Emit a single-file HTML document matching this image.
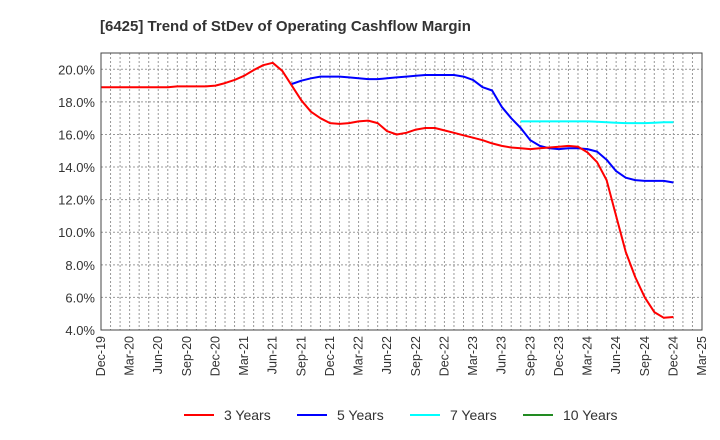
<!DOCTYPE html>
<html><head><meta charset="utf-8"><style>
body{margin:0;background:#fff;font-family:"Liberation Sans",sans-serif;}
svg{display:block}
</style></head><body>
<svg id="chart" width="720" height="440" xmlns="http://www.w3.org/2000/svg">
<text x="100" y="31" font-size="15" font-weight="bold" fill="#333">[6425]  Trend of StDev of Operating Cashflow Margin</text>
<g id="grid"></g>
<g id="yaxis"></g>
<g id="xaxis"></g>
<g id="series"></g>
<rect x="101" y="53" width="601" height="277" fill="none" stroke="#444" stroke-width="1"/>
<g>
<g><line x1="184" y1="415" x2="214" y2="415" stroke="#ff0000" stroke-width="2"/><text x="224" y="420" font-size="14" fill="#333">3 Years</text></g>
<g><line x1="297" y1="415" x2="327" y2="415" stroke="#0000ff" stroke-width="2"/><text x="337" y="420" font-size="14" fill="#333">5 Years</text></g>
<g><line x1="410" y1="415" x2="440" y2="415" stroke="#00ffff" stroke-width="2"/><text x="450" y="420" font-size="14" fill="#333">7 Years</text></g>
<g><line x1="523" y1="415" x2="553" y2="415" stroke="#228b22" stroke-width="2"/><text x="563" y="420" font-size="14" fill="#333">10 Years</text></g>
</g>
</svg>
<script>
const xTickLabels=["Dec-19","Mar-20","Jun-20","Sep-20","Dec-20","Mar-21","Jun-21","Sep-21","Dec-21","Mar-22","Jun-22","Sep-22","Dec-22","Mar-23","Jun-23","Sep-23","Dec-23","Mar-24","Jun-24","Sep-24","Dec-24","Mar-25"];
const yTicks=[4,6,8,10,12,14,16,18,20];
// monthly values starting Dec-19 (index 0)
const series3Start=0;
const series3=[18.9,18.9,18.9,18.9,18.9,18.9,18.9,18.9,18.95,18.95,18.95,18.95,19.0,19.15,19.35,19.6,19.95,20.25,20.4,19.9,19.0,18.1,17.4,17.0,16.7,16.65,16.7,16.8,16.85,16.7,16.2,16.0,16.1,16.3,16.4,16.4,16.25,16.1,15.95,15.8,15.65,15.45,15.3,15.2,15.15,15.1,15.15,15.2,15.25,15.3,15.25,14.9,14.3,13.2,11.0,8.8,7.25,6.0,5.1,4.75,4.8];
const series5Start=20;
const series5=[19.1,19.3,19.45,19.55,19.55,19.55,19.5,19.45,19.4,19.4,19.45,19.5,19.55,19.6,19.65,19.65,19.65,19.65,19.55,19.35,18.9,18.7,17.7,17.0,16.4,15.65,15.3,15.15,15.1,15.15,15.15,15.1,14.95,14.45,13.75,13.35,13.2,13.15,13.15,13.15,13.05];
const series7Start=44;
const series7=[16.8,16.8,16.8,16.8,16.8,16.8,16.8,16.8,16.78,16.75,16.72,16.7,16.7,16.7,16.72,16.75,16.75];
const series10=[];
const NS="http://www.w3.org/2000/svg";
const L=101,R=702,T=53,B=330,YMIN=4,YMAX=21,MONTHS=63;
const xs=m=>L+(R-L)*m/MONTHS;
const ys=v=>B-(B-T)*(v-YMIN)/(YMAX-YMIN);
function mk(tag,attrs,parent){const e=document.createElementNS(NS,tag);for(const k in attrs)e.setAttribute(k,attrs[k]);parent.appendChild(e);return e;}
const grid=document.getElementById('grid'),ya=document.getElementById('yaxis'),xa=document.getElementById('xaxis'),sg=document.getElementById('series');
for(let m=1;m<MONTHS;m++){const l=mk('line',{x1:xs(m),x2:xs(m),y1:T,y2:B,stroke:'#999','stroke-width':1,'stroke-dasharray':'2,2'},grid);

}
yTicks.forEach(v=>{if(v>YMIN){const l=mk('line',{x1:L,x2:R,y1:ys(v),y2:ys(v),stroke:'#999','stroke-width':1,'stroke-dasharray':'2,2'},grid);

}
const t=mk('text',{x:L-6,y:ys(v)+5,'text-anchor':'end','font-size':13,fill:'#333'},ya);t.textContent=v.toFixed(1)+'%';

});
xTickLabels.forEach((s,i)=>{const x=xs(i*3);const t=mk('text',{x:x+4,y:B+6,'text-anchor':'end','font-size':12.5,fill:'#333',transform:`rotate(-90 ${x+4} ${B+6})`},xa);t.textContent=s;

});
function line(arr,start,color,name){if(!arr.length)return;const d=arr.map((v,i)=>(i?'L':'M')+xs(start+i).toFixed(1)+','+ys(v).toFixed(1)).join('');
const p=mk('path',{d:d,fill:'none',stroke:color,'stroke-width':2,'stroke-linejoin':'round'},sg);

}
line(series7,series7Start,'#00ffff','line-7-years');
line(series5,series5Start,'#0000ff','line-5-years');
line(series3,series3Start,'#ff0000','line-3-years');
line(series10,0,'#228b22','line-10-years');
</script>
</body></html>
